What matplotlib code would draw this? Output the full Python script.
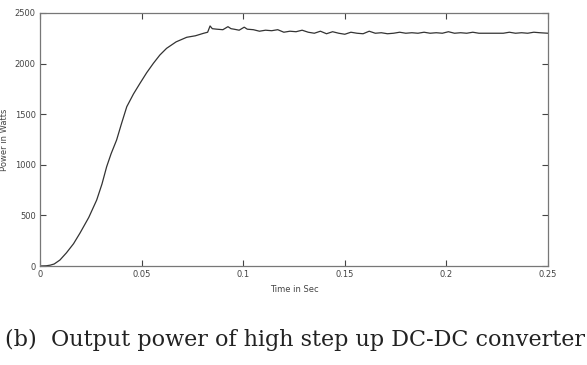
import matplotlib.pyplot as plt

# time (s) and output power (W)
time_s = [0.0, 0.003, 0.005, 0.007, 0.0098, 0.013, 0.0165, 0.0197, 0.024, 0.0279,
          0.0305, 0.0328, 0.035, 0.0377, 0.040, 0.0427, 0.046, 0.0492, 0.0525,
          0.0558, 0.059, 0.0623, 0.067, 0.0722, 0.0765,
          0.0804, 0.0825, 0.0837, 0.0848, 0.087, 0.090, 0.0925, 0.094, 0.0955,
          0.098, 0.1005, 0.102, 0.105, 0.108, 0.111, 0.114, 0.117, 0.120, 0.123,
          0.126, 0.129, 0.132, 0.135, 0.138, 0.141, 0.144, 0.147, 0.150, 0.153,
          0.156, 0.159, 0.162, 0.165, 0.168, 0.171, 0.174, 0.177, 0.180, 0.183,
          0.186, 0.189, 0.192, 0.195, 0.198, 0.201, 0.204, 0.207, 0.210, 0.213,
          0.216, 0.219, 0.222, 0.225, 0.228, 0.231, 0.234, 0.237, 0.240, 0.243,
          0.246, 0.250]
power_w = [0, 2, 8, 20, 59, 130, 220, 326, 480, 652,
           810, 981, 1110, 1245, 1400, 1574, 1700, 1805, 1910,
           2003, 2085, 2151, 2215, 2260, 2275,
           2299, 2310, 2372, 2345, 2340, 2335, 2365, 2345, 2340,
           2330, 2360, 2340, 2335, 2320, 2330, 2325, 2335, 2310, 2320,
           2315, 2330, 2310, 2300, 2320, 2295, 2315, 2300, 2290, 2310,
           2300, 2295, 2320, 2300, 2305, 2295, 2300, 2310, 2300, 2305,
           2300, 2310, 2300, 2305, 2300, 2315, 2300, 2305, 2300, 2310,
           2300, 2300, 2300, 2300, 2300, 2310, 2300, 2305, 2300, 2310,
           2305, 2300]

x_ticks = [0, 0.05, 0.1, 0.15, 0.2, 0.25]
x_tick_labels = ['0', '0.05', '0.1', '0.15', '0.2', '0.25']
y_ticks = [0, 500, 1000, 1500, 2000, 2500]

fig = plt.figure(figsize=(5.87, 3.65), dpi=100)
ax = fig.add_axes([40 / 587, 1 - 266 / 365, 508 / 587, 253 / 365])

ax.plot(time_s, power_w, color='#333333', linewidth=0.9)

ax.set_xlim(0, 0.25)
ax.set_ylim(0, 2500)
ax.set_xticks(x_ticks)
ax.set_xticklabels(x_tick_labels)
ax.set_yticks(y_ticks)
ax.tick_params(direction='in', top=True, right=True, length=4, width=0.8,
               colors='#444444', labelsize=6, pad=3)
for s in ax.spines.values():
    s.set_color('#777777')
    s.set_linewidth(0.9)

ax.set_xlabel('Time in Sec', fontsize=6, color='#444444', labelpad=4)
ax.set_ylabel('Power in Watts', fontsize=6, color='#444444', labelpad=4)

# caption under the plot
fig.text(0.008, 1 - 340 / 365, '(b)  Output power of high step up DC-DC converter',
         fontsize=16, family='DejaVu Serif', color='#222222', va='center', ha='left')

fig.savefig('out.png', dpi=100)
